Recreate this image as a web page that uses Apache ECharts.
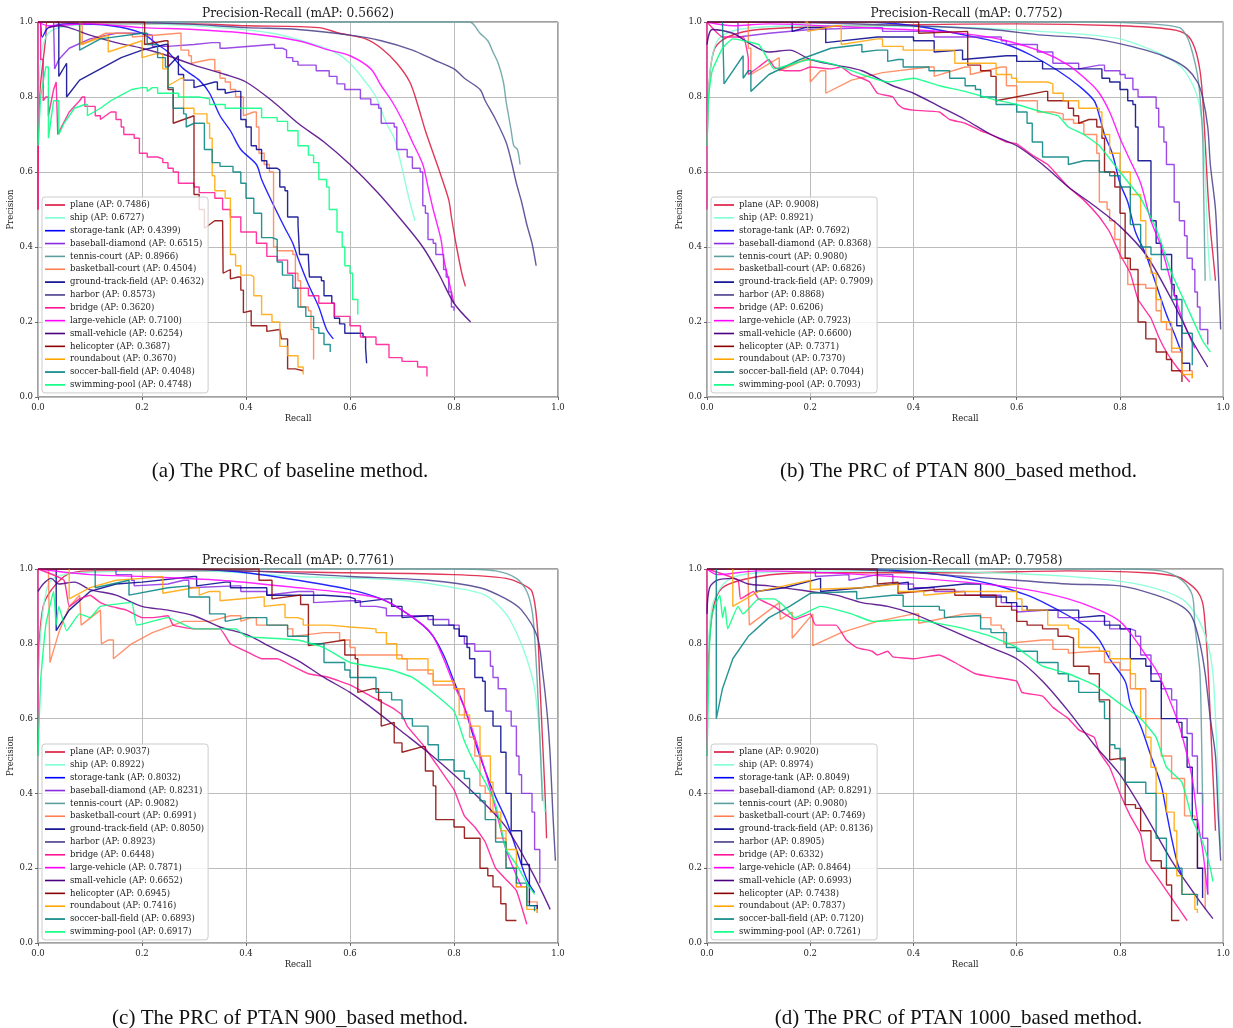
<!DOCTYPE html>
<html><head><meta charset="utf-8">
<style>html,body{margin:0;padding:0;background:#fff}#c{width:1233px;height:1028px}</style>
<script src="https://cdn.jsdelivr.net/npm/echarts@6/dist/echarts.min.js"></script>
</head><body><div id="c"></div>
<script>
const classes=['plane','ship','storage-tank','baseball-diamond','tennis-court','basketball-court','ground-track-field','harbor','bridge','large-vehicle','small-vehicle','helicopter','roundabout','soccer-ball-field','swimming-pool'];
const colors=['#dc143c','#7fffd4','#0000ff','#8a2be2','#5f9ea0','#ff7f50','#00008b','#483d8b','#ff1493','#ff00ff','#4b0082','#8b0000','#ffa500','#008080','#00ff7f'];
const stepped=['baseball-diamond','basketball-court','ground-track-field','helicopter','roundabout','soccer-ball-field'];
const jagged=['bridge','swimming-pool'];
const mapTitles=['Precision-Recall (mAP: 0.5662)','Precision-Recall (mAP: 0.7752)','Precision-Recall (mAP: 0.7761)','Precision-Recall (mAP: 0.7958)'];
const captions=['(a) The PRC of baseline method.','(b) The PRC of PTAN 800_based method.','(c) The PRC of PTAN 900_based method.','(d) The PRC of PTAN 1000_based method.'];
const apA=['0.7486','0.6727','0.4399','0.6515','0.8966','0.4504','0.4632','0.8573','0.3620','0.7100','0.6254','0.3687','0.3670','0.4048','0.4748'];
const apB=['0.9008','0.8921','0.7692','0.8368','0.9080','0.6826','0.7909','0.8868','0.6206','0.7923','0.6600','0.7371','0.7370','0.7044','0.7093'];
const apC=['0.9037','0.8922','0.8032','0.8231','0.9082','0.6991','0.8050','0.8923','0.6448','0.7871','0.6652','0.6945','0.7416','0.6893','0.6917'];
const apD=['0.9020','0.8974','0.8049','0.8291','0.9080','0.7469','0.8136','0.8905','0.6332','0.8464','0.6993','0.7438','0.7837','0.7120','0.7261'];
const xTicks=[0,0.2,0.4,0.6,0.8,1];

// Panel (a)
const a_plane=[[0,.5],[.003,.8],[.015,.96],[.017,1],[.1,.995],[.3,.995],[.4,.99],[.54,.985],[.58,.97],[.63,.955],[.66,.93],[.69,.89],[.715,.84],[.73,.78],[.745,.71],[.76,.65],[.775,.59],[.79,.525],[.795,.48],[.805,.4],[.815,.33],[.822,.295]];
const a_ship=[[0,.67],[.005,.9],[.02,.97],[.06,.99],[.2,.995],[.35,.985],[.45,.97],[.52,.945],[.57,.92],[.6,.89],[.63,.84],[.65,.8],[.67,.73],[.685,.69],[.695,.64],[.705,.58],[.715,.52],[.725,.47]];
const a_storage=[[0,1],[.004,1],[.008,.96],[.02,.985],[.06,.995],[.14,.99],[.2,.97],[.23,.94],[.25,.92],[.28,.875],[.31,.845],[.33,.81],[.35,.75],[.37,.71],[.39,.66],[.42,.62],[.43,.58],[.45,.52],[.475,.45],[.49,.41],[.5,.37],[.52,.3],[.54,.24],[.555,.18],[.568,.155]];
const a_baseball=[[.03,1],[.032,.875],[.04,.9],[.06,.93],[.1,.955],[.15,.97],[.2,.965],[.22,.935],[.25,.93],[.3,.94],[.335,.945],[.35,.93],[.36,.925],[.45,.94],[.455,.93],[.47,.925],[.478,.905],[.49,.895],[.5,.885],[.505,.88],[.52,.885],[.535,.87],[.56,.855],[.575,.835],[.59,.82],[.62,.795],[.64,.78],[.655,.77],[.66,.73],[.685,.72],[.69,.66],[.71,.64],[.72,.61],[.735,.6],[.74,.51],[.745,.49],[.75,.42],[.76,.41],[.765,.38],[.78,.34],[.785,.32],[.79,.28],[.795,.24],[.8,.23]];
const a_tennis=[[0,1],[.83,1],[.85,.97],[.865,.95],[.875,.92],[.885,.89],[.895,.84],[.9,.79],[.905,.75],[.91,.71],[.915,.67],[.922,.66],[.927,.62]];
const a_basketball=[[.08,1],[.085,.94],[.13,.97],[.18,.97],[.182,.96],[.27,.97],[.275,.925],[.29,.91],[.295,.89],[.33,.9],[.34,.87],[.35,.85],[.36,.84],[.37,.82],[.38,.8],[.39,.8],[.395,.75],[.415,.76],[.42,.72],[.425,.65],[.435,.62],[.445,.6],[.453,.4],[.46,.39],[.49,.38],[.495,.33],[.5,.31],[.505,.24],[.52,.23],[.525,.18],[.53,.1]];
const a_gtf=[[.036,1],[.04,.855],[.055,.89],[.055,.8],[.08,.845],[.12,.875],[.16,.905],[.2,.925],[.245,.94],[.25,.88],[.27,.91],[.27,.86],[.28,.845],[.3,.825],[.34,.84],[.345,.82],[.36,.81],[.38,.815],[.39,.74],[.4,.72],[.41,.71],[.41,.67],[.42,.66],[.43,.63],[.44,.61],[.46,.605],[.465,.56],[.475,.55],[.48,.48],[.5,.46],[.503,.38],[.52,.37],[.522,.32],[.545,.31],[.55,.27],[.565,.25],[.57,.21],[.58,.195],[.59,.17],[.625,.16],[.63,.13],[.632,.09]];
const a_harbor=[[0,1],[.1,1],[.28,.995],[.4,.985],[.5,.98],[.6,.965],[.66,.95],[.72,.925],[.76,.9],[.8,.875],[.82,.85],[.85,.82],[.86,.79],[.88,.74],[.9,.68],[.91,.63],[.92,.57],[.93,.52],[.94,.46],[.95,.41],[.958,.35]];
const a_bridge=[[0,.5],[0,1],[.005,.9],[.01,.79],[.015,.8],[.02,.75],[.03,.82],[.035,.84],[.038,.7],[.045,.72],[.06,.76],[.08,.79],[.085,.8],[.09,.775],[.11,.75],[.12,.74],[.14,.76],[.15,.74],[.16,.72],[.165,.7],[.185,.69],[.195,.65],[.21,.64],[.23,.635],[.24,.625],[.25,.61],[.26,.6],[.27,.57],[.3,.56],[.31,.545],[.34,.53],[.355,.5],[.37,.48],[.39,.44],[.42,.41],[.44,.375],[.46,.365],[.48,.33],[.495,.29],[.52,.27],[.54,.25],[.57,.215],[.6,.19],[.62,.16],[.65,.14],[.675,.105],[.7,.095],[.73,.08],[.748,.055]];
const a_large=[[0,1],[.02,.99],[.1,.995],[.2,.985],[.3,.98],[.4,.97],[.5,.95],[.56,.925],[.6,.91],[.64,.875],[.66,.83],[.68,.79],[.7,.74],[.72,.68],[.74,.62],[.75,.56],[.76,.5],[.775,.42],[.78,.37],[.79,.31],[.8,.25]];
const a_small=[[.02,.985],[.04,.99],[.06,.985],[.1,.965],[.15,.945],[.2,.93],[.25,.91],[.3,.885],[.36,.86],[.4,.84],[.45,.79],[.5,.73],[.55,.68],[.6,.62],[.65,.55],[.7,.47],[.74,.4],[.77,.33],[.8,.25],[.832,.2]];
const a_heli=[[0,1],[.205,1],[.205,.94],[.245,.95],[.25,.88],[.25,.82],[.26,.82],[.26,.73],[.3,.75],[.3,.54],[.31,.5],[.32,.45],[.34,.47],[.355,.465],[.356,.33],[.37,.34],[.37,.315],[.385,.32],[.39,.285],[.395,.225],[.41,.23],[.41,.19],[.43,.19],[.44,.175],[.465,.18],[.468,.155],[.48,.155],[.48,.075],[.495,.07],[.51,.07]];
const a_round=[[.08,1],[.082,.94],[.135,.965],[.135,.92],[.2,.95],[.2,.905],[.225,.915],[.24,.875],[.25,.83],[.275,.85],[.28,.77],[.3,.755],[.325,.73],[.33,.69],[.335,.59],[.34,.55],[.36,.53],[.37,.48],[.37,.38],[.38,.35],[.39,.325],[.41,.32],[.415,.27],[.43,.22],[.45,.2],[.465,.17],[.465,.135],[.48,.11],[.5,.08],[.51,.06]];
const a_soccer=[[.08,1],[.08,.925],[.12,.955],[.2,.97],[.21,.94],[.23,.905],[.245,.88],[.25,.825],[.26,.82],[.26,.77],[.28,.755],[.285,.72],[.3,.73],[.32,.66],[.335,.625],[.35,.615],[.375,.6],[.39,.57],[.4,.53],[.415,.49],[.43,.425],[.45,.42],[.46,.36],[.47,.325],[.49,.29],[.5,.24],[.515,.215],[.53,.185],[.54,.17],[.55,.14],[.562,.12]];
const a_swim=[[0,.67],[.005,.8],[.015,.88],[.02,.69],[.03,.79],[.04,.7],[.05,.73],[.07,.77],[.09,.78],[.095,.75],[.12,.77],[.14,.79],[.16,.805],[.18,.82],[.2,.825],[.21,.815],[.22,.825],[.23,.81],[.27,.8],[.31,.795],[.33,.78],[.36,.77],[.4,.77],[.43,.745],[.46,.735],[.48,.71],[.5,.67],[.52,.645],[.53,.625],[.54,.58],[.555,.56],[.56,.5],[.575,.44],[.585,.4],[.59,.35],[.6,.33],[.605,.26],[.615,.22]];

// Panel (b)
const b_plane=[[0,.67],[.005,.85],[.015,.93],[.04,.96],[.1,.98],[.3,.99],[.6,.995],[.8,.99],[.9,.98],[.93,.965],[.945,.93],[.955,.87],[.96,.8],[.965,.68],[.97,.55],[.975,.45],[.98,.38],[.985,.31]];
const b_ship=[[0,.6],[.005,.85],[.02,.95],[.06,.98],[.2,.99],[.5,.985],[.7,.97],[.8,.955],[.87,.92],[.91,.89],[.93,.86],[.95,.8],[.96,.72],[.965,.6],[.97,.42],[.975,.31]];
const b_storage=[[0,1],[.3,1],[.4,.99],[.5,.965],[.58,.94],[.63,.91],[.68,.87],[.72,.83],[.75,.79],[.76,.75],[.77,.7],[.785,.65],[.8,.57],[.815,.52],[.83,.44],[.85,.38],[.87,.3],[.89,.22],[.905,.17],[.92,.115]];
const b_baseball=[[.01,1],[.06,.96],[.12,.97],[.2,.98],[.33,.985],[.34,.975],[.42,.975],[.44,.96],[.49,.955],[.51,.96],[.57,.95],[.58,.94],[.64,.92],[.66,.92],[.67,.89],[.72,.875],[.76,.885],[.77,.87],[.8,.86],[.81,.85],[.825,.82],[.835,.8],[.855,.8],[.87,.77],[.875,.72],[.885,.68],[.89,.62],[.905,.6],[.905,.52],[.915,.47],[.925,.43],[.93,.37],[.94,.34],[.945,.28],[.95,.24],[.955,.18],[.97,.14]];
const b_tennis=[[0,1],[.75,1],[.86,.995],[.915,.985],[.93,.96],[.94,.92],[.95,.86],[.955,.8],[.96,.7],[.962,.55],[.965,.31]];
const b_basketball=[[.06,1],[.08,.93],[.085,.86],[.14,.905],[.14,.87],[.19,.9],[.2,.84],[.22,.87],[.23,.81],[.28,.845],[.34,.865],[.43,.88],[.44,.855],[.5,.88],[.51,.86],[.57,.88],[.58,.83],[.6,.82],[.6,.79],[.64,.76],[.67,.755],[.69,.74],[.71,.73],[.73,.7],[.75,.7],[.755,.65],[.76,.52],[.775,.5],[.78,.47],[.79,.42],[.8,.37],[.815,.3],[.83,.3],[.85,.29],[.87,.23],[.88,.2],[.89,.18],[.9,.12],[.92,.07],[.94,.05]];
const b_gtf=[[.165,1],[.165,.975],[.19,.985],[.23,.945],[.33,.96],[.4,.95],[.44,.92],[.49,.925],[.495,.9],[.58,.91],[.6,.895],[.64,.895],[.65,.875],[.68,.87],[.76,.875],[.765,.85],[.78,.84],[.8,.82],[.815,.79],[.825,.78],[.83,.72],[.835,.63],[.86,.62],[.86,.47],[.87,.41],[.88,.38],[.9,.3],[.905,.27],[.91,.19],[.92,.09],[.935,.07]];
const b_harbor=[[0,1],[.1,1],[.4,.99],[.55,.98],[.65,.965],[.75,.955],[.85,.925],[.9,.9],[.93,.875],[.95,.84],[.96,.8],[.97,.72],[.975,.62],[.985,.5],[.99,.35],[.995,.18]];
const b_bridge=[[0,.5],[0,1],[.03,.96],[.07,.96],[.08,.9],[.08,.86],[.1,.88],[.12,.9],[.13,.88],[.15,.87],[.18,.87],[.2,.88],[.24,.875],[.26,.88],[.28,.86],[.3,.85],[.315,.84],[.33,.81],[.36,.8],[.37,.78],[.38,.77],[.4,.765],[.45,.76],[.47,.74],[.5,.73],[.53,.71],[.55,.7],[.58,.68],[.6,.675],[.63,.645],[.66,.62],[.68,.59],[.7,.56],[.73,.525],[.76,.48],[.78,.44],[.8,.38],[.82,.33],[.835,.26],[.86,.21],[.875,.16],[.89,.12],[.91,.08],[.935,.04]];
const b_large=[[0,1],[.05,.99],[.12,.995],[.3,.985],[.45,.975],[.52,.965],[.58,.95],[.65,.92],[.7,.885],[.74,.84],[.76,.81],[.78,.76],[.8,.69],[.82,.63],[.84,.57],[.86,.47],[.88,.4],[.9,.3],[.92,.21],[.945,.13]];
const b_small=[[0,.94],[.01,.98],[.05,.97],[.08,.945],[.12,.92],[.16,.925],[.2,.9],[.25,.885],[.3,.87],[.36,.83],[.4,.81],[.45,.775],[.5,.74],[.55,.7],[.6,.67],[.65,.62],[.7,.56],[.75,.51],[.8,.455],[.85,.38],[.9,.26],[.94,.15],[.97,.08]];
const b_heli=[[0,1],[.41,1],[.41,.97],[.505,.975],[.505,.885],[.53,.87],[.55,.855],[.56,.79],[.655,.815],[.66,.79],[.69,.79],[.7,.77],[.71,.75],[.72,.73],[.74,.74],[.755,.72],[.765,.69],[.77,.6],[.79,.56],[.8,.49],[.81,.37],[.82,.34],[.835,.33],[.835,.2],[.85,.155],[.87,.12],[.89,.1],[.9,.07],[.92,.04]];
const b_round=[[.19,1],[.195,.975],[.25,.99],[.26,.94],[.33,.955],[.34,.935],[.38,.925],[.47,.925],[.48,.89],[.55,.89],[.56,.86],[.59,.85],[.6,.84],[.66,.835],[.67,.81],[.69,.79],[.72,.77],[.76,.76],[.765,.7],[.78,.65],[.8,.6],[.82,.54],[.84,.47],[.85,.37],[.86,.33],[.87,.26],[.88,.2],[.9,.13],[.92,.06],[.94,.05]];
const b_soccer=[[.03,1],[.033,.835],[.07,.91],[.07,.85],[.08,.87],[.085,.815],[.12,.86],[.18,.9],[.24,.93],[.3,.94],[.3,.92],[.33,.925],[.35,.895],[.37,.9],[.38,.88],[.43,.87],[.47,.85],[.49,.85],[.5,.83],[.52,.82],[.53,.8],[.56,.78],[.6,.76],[.62,.73],[.63,.68],[.65,.64],[.68,.64],[.7,.62],[.73,.63],[.76,.6],[.78,.59],[.8,.56],[.82,.46],[.84,.4],[.86,.38],[.88,.34],[.9,.26],[.92,.17],[.94,.085]];
const b_swim=[[0,.67],[.003,.8],[.01,.87],[.03,.93],[.05,.955],[.1,.94],[.11,.92],[.13,.875],[.17,.89],[.2,.9],[.25,.885],[.3,.86],[.35,.84],[.4,.85],[.45,.83],[.5,.815],[.55,.795],[.6,.78],[.65,.76],[.68,.75],[.7,.72],[.73,.7],[.76,.67],[.8,.6],[.84,.53],[.87,.45],[.9,.33],[.93,.24],[.96,.15],[.975,.12]];

// Panel (c)
const c_plane=[[0,.67],[.01,.9],[.05,.98],[.1,.995],[.3,.995],[.6,.99],[.8,.985],[.9,.975],[.93,.96],[.95,.94],[.96,.85],[.965,.7],[.97,.55],[.975,.4],[.978,.28]];
const c_ship=[[0,.67],[.02,.96],[.08,.99],[.3,.995],[.5,.98],[.7,.97],[.8,.95],[.86,.93],[.9,.88],[.92,.83],[.94,.76],[.955,.68],[.965,.55],[.97,.42],[.975,.35]];
const c_storage=[[0,1],[.3,1],[.4,.99],[.5,.97],[.6,.945],[.66,.92],[.7,.89],[.74,.85],[.76,.82],[.78,.77],[.8,.7],[.82,.63],[.84,.54],[.86,.46],[.88,.39],[.9,.33],[.92,.25],[.94,.17],[.955,.135]];
const c_baseball=[[.15,1],[.15,.985],[.18,.97],[.185,.955],[.25,.96],[.28,.97],[.29,.95],[.38,.955],[.39,.94],[.44,.93],[.5,.94],[.53,.91],[.6,.915],[.62,.9],[.65,.895],[.67,.875],[.73,.875],[.75,.865],[.79,.85],[.81,.82],[.82,.8],[.84,.78],[.87,.74],[.875,.71],[.885,.68],[.9,.62],[.91,.58],[.92,.5],[.925,.45],[.93,.4],[.95,.35],[.955,.25],[.965,.24],[.965,.16]];
const c_tennis=[[0,1],[.8,1],[.88,.995],[.92,.975],[.94,.94],[.95,.89],[.955,.82],[.96,.7],[.965,.55],[.97,.38]];
const c_basketball=[[.02,1],[.023,.75],[.04,.83],[.06,.9],[.08,.93],[.083,.85],[.12,.89],[.122,.8],[.135,.81],[.145,.76],[.18,.8],[.22,.83],[.28,.86],[.33,.86],[.37,.875],[.39,.86],[.41,.87],[.42,.85],[.48,.84],[.49,.82],[.55,.83],[.58,.81],[.6,.79],[.61,.77],[.65,.77],[.7,.76],[.71,.73],[.75,.72],[.76,.69],[.8,.68],[.82,.6],[.83,.55],[.84,.5],[.85,.42],[.86,.4],[.87,.35],[.88,.28],[.9,.2],[.92,.15],[.94,.11],[.96,.08]];
const c_gtf=[[.035,1],[.035,.835],[.06,.89],[.1,.94],[.15,.96],[.2,.965],[.3,.98],[.305,.955],[.36,.965],[.37,.95],[.43,.95],[.44,.93],[.55,.925],[.6,.92],[.61,.91],[.67,.92],[.68,.9],[.7,.87],[.75,.875],[.76,.85],[.8,.84],[.81,.82],[.825,.79],[.83,.76],[.84,.71],[.855,.7],[.86,.62],[.875,.58],[.89,.51],[.9,.4],[.91,.39],[.91,.3],[.93,.3],[.93,.21],[.945,.2],[.945,.1],[.96,.09]];
const c_harbor=[[0,1],[.15,1],[.4,.995],[.6,.98],[.75,.97],[.85,.95],[.9,.92],[.93,.89],[.96,.82],[.97,.73],[.98,.6],[.985,.5],[.99,.35],[.995,.22]];
const c_bridge=[[0,.5],[0,1],[.05,.97],[.06,.9],[.08,.92],[.1,.93],[.12,.91],[.14,.9],[.17,.89],[.2,.87],[.22,.87],[.25,.875],[.26,.85],[.3,.84],[.35,.84],[.37,.8],[.4,.78],[.43,.76],[.46,.76],[.49,.74],[.52,.72],[.56,.71],[.6,.69],[.64,.66],[.68,.63],[.7,.61],[.71,.58],[.74,.53],[.76,.49],[.78,.45],[.8,.41],[.82,.34],[.84,.31],[.86,.27],[.88,.2],[.9,.17],[.92,.14],[.94,.05]];
const c_large=[[0,1],[.1,.985],[.2,.98],[.35,.97],[.5,.95],[.6,.935],[.66,.92],[.7,.89],[.74,.85],[.76,.82],[.78,.76],[.8,.69],[.82,.63],[.84,.55],[.86,.46],[.88,.36],[.9,.25],[.93,.15]];
const c_small=[[0,.94],[.01,.96],[.025,.975],[.04,.96],[.07,.965],[.1,.945],[.15,.93],[.2,.9],[.25,.89],[.3,.875],[.35,.845],[.4,.825],[.45,.79],[.5,.755],[.55,.71],[.6,.67],[.65,.62],[.7,.565],[.75,.51],[.8,.45],[.85,.385],[.9,.31],[.95,.19],[.985,.09]];
const c_heli=[[0,1],[.425,1],[.425,.97],[.45,.97],[.45,.92],[.505,.93],[.505,.905],[.52,.905],[.52,.795],[.59,.81],[.59,.77],[.61,.76],[.615,.67],[.645,.68],[.655,.65],[.66,.58],[.685,.59],[.685,.535],[.7,.51],[.74,.525],[.745,.46],[.76,.42],[.765,.33],[.79,.33],[.8,.31],[.82,.28],[.845,.28],[.85,.2],[.865,.18],[.875,.15],[.89,.105],[.9,.06],[.92,.06]];
const c_round=[[.06,1],[.06,.92],[.1,.95],[.15,.97],[.2,.975],[.24,.98],[.24,.935],[.3,.95],[.31,.93],[.33,.94],[.35,.915],[.43,.925],[.435,.9],[.47,.905],[.475,.87],[.5,.865],[.51,.85],[.56,.845],[.6,.84],[.65,.83],[.67,.8],[.69,.785],[.69,.76],[.74,.76],[.75,.73],[.76,.7],[.8,.68],[.81,.61],[.83,.58],[.85,.5],[.87,.43],[.875,.35],[.89,.3],[.9,.25],[.92,.15],[.94,.09],[.96,.08]];
const c_soccer=[[.11,1],[.11,.95],[.175,.97],[.175,.93],[.25,.95],[.29,.955],[.29,.925],[.33,.915],[.33,.88],[.36,.86],[.4,.87],[.44,.85],[.48,.82],[.52,.8],[.55,.78],[.55,.75],[.59,.73],[.6,.71],[.64,.71],[.65,.67],[.68,.65],[.7,.6],[.72,.58],[.75,.53],[.77,.49],[.8,.46],[.82,.44],[.83,.4],[.85,.38],[.86,.33],[.88,.27],[.9,.2],[.92,.16],[.94,.1],[.955,.085]];
const c_swim=[[0,.5],[.005,.7],[.015,.85],[.03,.94],[.035,.85],[.04,.9],[.055,.835],[.08,.88],[.1,.87],[.12,.9],[.18,.91],[.19,.85],[.25,.87],[.3,.84],[.38,.84],[.4,.82],[.45,.815],[.5,.81],[.55,.79],[.6,.75],[.68,.73],[.72,.71],[.75,.68],[.8,.62],[.82,.54],[.84,.48],[.86,.43],[.88,.37],[.9,.25],[.92,.21],[.94,.16],[.955,.13]];

// Panel (d)
const d_plane=[[0,.67],[.01,.88],[.03,.95],[.1,.98],[.2,.99],[.5,.99],[.7,.995],[.85,.99],[.91,.98],[.93,.965],[.95,.94],[.96,.91],[.965,.85],[.97,.75],[.975,.6],[.98,.45],[.985,.3]];
const d_ship=[[0,.67],[.01,.9],[.04,.97],[.1,.99],[.3,.995],[.55,.99],[.75,.975],[.85,.955],[.92,.92],[.95,.87],[.97,.8],[.98,.72],[.985,.6],[.99,.45],[.995,.25]];
const d_storage=[[0,1],[.3,1],[.45,.985],[.55,.96],[.62,.93],[.66,.905],[.7,.875],[.74,.84],[.76,.81],[.78,.76],[.81,.7],[.82,.64],[.84,.58],[.86,.5],[.88,.42],[.89,.35],[.9,.28],[.91,.22],[.92,.18]];
const d_baseball=[[.2,1],[.21,.98],[.275,.985],[.275,.97],[.33,.985],[.36,.96],[.4,.95],[.44,.94],[.5,.93],[.55,.93],[.57,.91],[.59,.9],[.6,.885],[.66,.89],[.68,.87],[.72,.86],[.76,.86],[.78,.84],[.82,.835],[.83,.82],[.84,.77],[.86,.72],[.88,.68],[.9,.65],[.91,.6],[.93,.56],[.94,.5],[.95,.4],[.96,.28],[.97,.13]];
const d_tennis=[[0,1],[.8,1],[.88,.995],[.92,.97],[.94,.93],[.945,.85],[.95,.79],[.955,.72],[.958,.55],[.96,.37]];
const d_basketball=[[.04,1],[.08,.95],[.082,.85],[.14,.91],[.142,.865],[.165,.885],[.165,.815],[.205,.88],[.205,.795],[.26,.83],[.33,.86],[.4,.88],[.41,.855],[.5,.88],[.53,.87],[.55,.85],[.57,.84],[.575,.8],[.65,.81],[.67,.785],[.7,.775],[.75,.78],[.77,.75],[.8,.73],[.82,.68],[.85,.6],[.88,.5],[.9,.44],[.925,.34],[.945,.33],[.95,.2],[.965,.2],[.965,.09]];
const d_gtf=[[.095,1],[.095,.94],[.15,.95],[.22,.975],[.22,.94],[.3,.95],[.39,.965],[.39,.945],[.5,.96],[.53,.95],[.53,.925],[.58,.91],[.6,.9],[.62,.89],[.72,.87],[.76,.875],[.77,.85],[.8,.84],[.82,.76],[.85,.74],[.86,.7],[.88,.6],[.91,.59],[.92,.55],[.93,.47],[.94,.33],[.95,.32],[.95,.2],[.96,.12]];
const d_harbor=[[0,1],[.2,1],[.35,.995],[.5,.98],[.6,.97],[.7,.96],[.8,.955],[.87,.93],[.92,.9],[.94,.87],[.955,.8],[.965,.72],[.975,.6],[.985,.5],[.99,.35],[.995,.22]];
const d_bridge=[[0,.5],[0,1],[.06,.97],[.065,.92],[.09,.94],[.1,.92],[.13,.9],[.15,.88],[.17,.865],[.2,.88],[.21,.85],[.25,.85],[.27,.81],[.29,.79],[.32,.78],[.33,.77],[.35,.78],[.36,.765],[.4,.76],[.45,.77],[.48,.75],[.52,.72],[.56,.71],[.6,.7],[.61,.67],[.65,.66],[.67,.63],[.7,.6],[.72,.57],[.75,.55],[.76,.51],[.78,.47],[.8,.4],[.82,.34],[.84,.29],[.85,.22],[.87,.18],[.9,.12],[.92,.08],[.93,.06]];
const d_large=[[0,1],[.02,.985],[.1,.995],[.3,.985],[.5,.965],[.62,.945],[.7,.92],[.76,.89],[.8,.86],[.83,.81],[.85,.77],[.87,.73],[.89,.67],[.91,.6],[.925,.53],[.94,.44],[.95,.33],[.96,.25],[.97,.13]];
const d_small=[[0,.88],[.005,.95],[.02,.97],[.05,.975],[.08,.96],[.12,.955],[.2,.94],[.25,.93],[.3,.91],[.35,.9],[.4,.88],[.45,.85],[.5,.82],[.55,.79],[.6,.76],[.65,.7],[.7,.62],[.75,.53],[.8,.45],[.85,.34],[.9,.22],[.95,.12],[.98,.065]];
const d_heli=[[0,1],[.33,1],[.33,.96],[.37,.965],[.37,.935],[.45,.945],[.48,.93],[.56,.93],[.56,.9],[.59,.89],[.6,.86],[.62,.85],[.65,.84],[.68,.82],[.7,.815],[.71,.78],[.71,.74],[.74,.72],[.76,.695],[.76,.65],[.78,.64],[.78,.49],[.81,.495],[.81,.37],[.83,.36],[.84,.3],[.85,.3],[.86,.22],[.88,.2],[.89,.155],[.9,.06],[.915,.06]];
const d_round=[[.05,1],[.05,.9],[.1,.94],[.2,.97],[.2,.945],[.3,.95],[.37,.96],[.37,.94],[.42,.93],[.5,.94],[.58,.94],[.6,.92],[.61,.89],[.65,.89],[.66,.85],[.7,.84],[.72,.83],[.72,.79],[.76,.78],[.78,.76],[.82,.72],[.83,.68],[.84,.6],[.85,.55],[.86,.47],[.87,.4],[.89,.35],[.905,.3],[.91,.18],[.92,.13],[.945,.09],[.95,.08]];
const d_soccer=[[.018,1],[.018,.6],[.03,.68],[.05,.76],[.08,.82],[.12,.87],[.16,.9],[.2,.935],[.29,.94],[.29,.92],[.36,.93],[.38,.9],[.45,.89],[.46,.87],[.52,.875],[.53,.84],[.55,.83],[.58,.79],[.6,.78],[.64,.75],[.68,.72],[.7,.7],[.72,.67],[.76,.645],[.77,.6],[.78,.53],[.79,.52],[.8,.49],[.81,.43],[.85,.4],[.87,.28],[.89,.2],[.92,.18],[.92,.13],[.95,.1]];
const d_swim=[[0,.5],[.005,.8],[.01,.88],[.025,.93],[.03,.87],[.035,.9],[.04,.84],[.06,.9],[.07,.88],[.1,.92],[.13,.92],[.15,.9],[.17,.87],[.22,.9],[.28,.88],[.32,.86],[.4,.865],[.5,.84],[.55,.82],[.6,.79],[.65,.74],[.7,.72],[.75,.69],[.8,.64],[.84,.6],[.87,.55],[.89,.47],[.92,.43],[.94,.33],[.96,.27],[.975,.2],[.98,.165]];

const panelData=[
 [a_plane,a_ship,a_storage,a_baseball,a_tennis,a_basketball,a_gtf,a_harbor,a_bridge,a_large,a_small,a_heli,a_round,a_soccer,a_swim],
 [b_plane,b_ship,b_storage,b_baseball,b_tennis,b_basketball,b_gtf,b_harbor,b_bridge,b_large,b_small,b_heli,b_round,b_soccer,b_swim],
 [c_plane,c_ship,c_storage,c_baseball,c_tennis,c_basketball,c_gtf,c_harbor,c_bridge,c_large,c_small,c_heli,c_round,c_soccer,c_swim],
 [d_plane,d_ship,d_storage,d_baseball,d_tennis,d_basketball,d_gtf,d_harbor,d_bridge,d_large,d_small,d_heli,d_round,d_soccer,d_swim]];
const panelAP=[apA,apB,apC,apD];

// Precision only falls at a fixed recall: hold the level, then drop.
function stair(pts){const o=[];pts.forEach((p,i)=>{if(i&&p[1]<pts[i-1][1]&&p[0]>pts[i-1][0])o.push([p[0],pts[i-1][1]]);o.push(p);});return o;}

const SERIF='"DejaVu Serif",serif';
const boxes=[{l:38,t:22,w:520,h:375},{l:707,t:22,w:519,h:375},{l:38,t:569,w:520,h:374},{l:707,t:569,w:519,h:374}];
const capY=[456,456,1003,1003];
const grid=[],xAxis=[],yAxis=[],legend=[],series=[],title=[];
boxes.forEach((b,p)=>{
 grid.push({left:b.l,top:b.t,width:b.w,height:b.h,show:true,borderColor:'#444',borderWidth:1,backgroundColor:'#fff'});
 xAxis.push({gridIndex:p,type:'value',min:xTicks[0],max:xTicks[5],interval:.2,name:'Recall',nameLocation:'middle',nameGap:17,
  nameTextStyle:{fontFamily:SERIF,fontSize:8.5,color:'#222'},
  axisLine:{show:false},axisTick:{show:true,length:3,lineStyle:{color:'#444',width:.8}},
  axisLabel:{fontFamily:SERIF,fontSize:8.5,color:'#222',margin:6,formatter:v=>v.toFixed(1)},
  splitLine:{show:true,lineStyle:{color:'#bcbcbc',width:1}}});
 yAxis.push({gridIndex:p,type:'value',min:0,max:1,interval:.2,name:'Precision',nameLocation:'middle',nameGap:21,
  nameTextStyle:{fontFamily:SERIF,fontSize:8.5,color:'#222'},
  axisLine:{show:false},axisTick:{show:true,length:3,lineStyle:{color:'#444',width:.8}},
  axisLabel:{fontFamily:SERIF,fontSize:8.5,color:'#222',margin:5,formatter:v=>v.toFixed(1)},
  splitLine:{show:true,lineStyle:{color:'#bcbcbc',width:1}}});
 const names=classes.map((c,i)=>c+' (AP: '+panelAP[p][i]+')');
 legend.push({data:names,orient:'vertical',left:b.l+4,top:b.t+175,padding:[3,4,3,3],
  backgroundColor:'rgba(255,255,255,0.82)',borderColor:'#ccc',borderWidth:1,borderRadius:3,
  icon:'rect',itemWidth:20,itemHeight:1.6,itemGap:2.85,selectedMode:false,
  textStyle:{fontFamily:SERIF,fontSize:8.5,color:'#222',lineHeight:10},z:20});
 classes.forEach((c,i)=>{
  const pts=panelData[p][i];
  const useStair=stepped.includes(c)||(p===0&&jagged.includes(c));
  const s={type:'line',name:names[i],xAxisIndex:p,yAxisIndex:p,showSymbol:false,symbol:'none',animation:false,silent:true,
   data:useStair?stair(pts):pts,
   lineStyle:{color:colors[i],width:1.4,opacity:.85},itemStyle:{color:colors[i]},z:3+i/100};
  if(!useStair){s.smooth=jagged.includes(c)?.12:.3;}
  series.push(s);
 });
 title.push({text:mapTitles[p],left:b.l+b.w/2-5,top:b.t-19,textAlign:'center',textStyle:{fontFamily:SERIF,fontSize:12.2,fontWeight:'normal',color:'#222'}});
 title.push({text:captions[p],left:b.l+b.w/2-13,top:capY[p],textAlign:'center',textStyle:{fontFamily:'"Liberation Serif",serif',fontSize:21,fontWeight:'normal',color:'#111'}});
});
const chart=echarts.init(document.getElementById('c'),null,{renderer:'canvas'});
chart.setOption({animation:false,backgroundColor:'#fff',title,grid,xAxis,yAxis,legend,series});
</script></body></html>
